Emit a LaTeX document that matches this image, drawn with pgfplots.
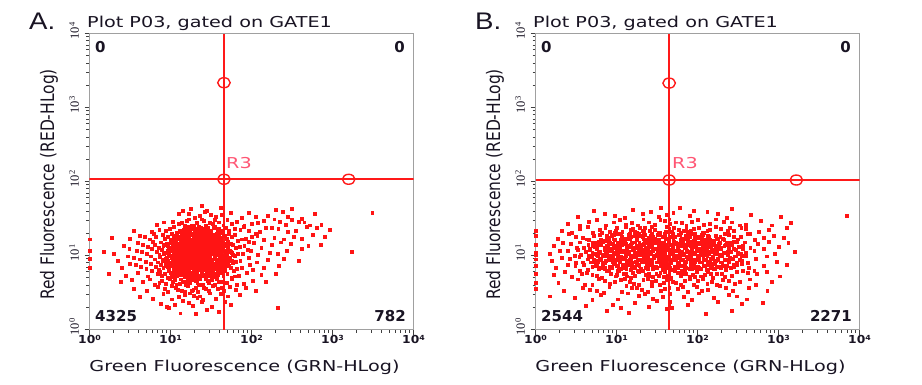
\documentclass[border=0pt]{standalone}
\usepackage{fontspec}
\setmainfont{DejaVu Sans}
\newfontfamily\tickserif{Liberation Serif}
\newfontfamily\panelfont{Liberation Sans}
\usepackage{graphicx}
\usepackage{pgfplots}
\pgfplotsset{compat=1.18}

\definecolor{gatered}{RGB}{255,25,25}
\definecolor{dotred}{RGB}{255,20,20}
\definecolor{framegray}{RGB}{160,160,160}
\definecolor{rthree}{RGB}{255,85,115}
\definecolor{txt}{RGB}{25,20,35}

\newcommand{\hs}[1]{\scalebox{1.28}[1]{#1}}
\newcommand{\xlab}[1]{\scalebox{1.12}[1]{\fontsize{11}{11}\selectfont\bfseries 10\raisebox{0.45ex}{\fontsize{7}{7}\selectfont #1}}}
\newcommand{\ylab}[1]{{\tickserif\fontsize{12.5}{12.5}\selectfont 10\raisebox{0.7ex}{\fontsize{8.5}{8.5}\selectfont #1}}}

\pgfplotsset{flowplot/.style={
  scale only axis, width=324pt, height=296pt,
  xmin=0, xmax=4, ymin=0, ymax=4,
  axis line style={framegray, line width=1.6pt},
  xtick={0,1,2,3,4}, ytick={0,1,2,3,4},
  xticklabels={\xlab{0},\xlab{1},\xlab{2},\xlab{3},\xlab{4}},
  yticklabels={\ylab{0},\ylab{1},\ylab{2},\ylab{3},\ylab{4}},
  minor xtick={0.301,0.477,0.602,0.699,0.778,0.845,0.903,0.954,1.301,1.477,1.602,1.699,1.778,1.845,1.903,1.954,2.301,2.477,2.602,2.699,2.778,2.845,2.903,2.954,3.301,3.477,3.602,3.699,3.778,3.845,3.903,3.954},
  minor ytick={0.301,0.477,0.602,0.699,0.778,0.845,0.903,0.954,1.301,1.477,1.602,1.699,1.778,1.845,1.903,1.954,2.301,2.477,2.602,2.699,2.778,2.845,2.903,2.954,3.301,3.477,3.602,3.699,3.778,3.845,3.903,3.954},
  tick align=outside, tick pos=left,
  major tick length=5pt, minor tick length=3pt,
  every tick/.style={black!75, line width=0.9pt},
  xticklabel style={txt, yshift=3pt},
  yticklabel style={txt, xshift=-2pt, yshift=2.5pt, rotate=90, anchor=south},
}}
\pgfplotsset{dots/.style={only marks, color=dotred, mark=square*, mark size=1.45pt, mark options={draw=none, fill=dotred}}}
\pgfplotsset{gate/.style={color=gatered, draw=gatered, line width=1.6pt, no marks}}
\pgfplotsset{handles/.style={only marks, color=gatered, mark=o, mark size=5pt, mark options={draw=gatered, line width=1.4pt, xscale=1.25}}}

\begin{document}
\begin{tikzpicture}[x=1pt,y=1pt]
\path[use as bounding box] (0,0) rectangle (922,384);

% ---------------- Panel A ----------------
\begin{axis}[flowplot, at={(89.5pt,54.5pt)}, anchor=south west]
\addplot[dots] coordinates {
(1.12,0.22) (1.45,0.27) (0.98,0.29) (1.60,0.24) (1.31,0.21) (2.32,0.30)
(1.05,0.33) (1.22,0.36) (1.51,0.31) (1.38,0.38) (0.88,0.35) (1.67,0.37) (1.27,0.32) (1.74,0.34) (1.15,0.39) (0.95,0.31)
(0.62,0.44) (1.02,0.41) (1.18,0.47) (1.33,0.43) (1.48,0.49) (1.56,0.42) (1.29,0.46) (0.91,0.48) (1.71,0.45) (1.40,0.40) (1.10,0.44) (1.85,0.47) (0.78,0.42) (1.24,0.49) (1.62,0.48) (1.36,0.45)
(0.55,0.55) (0.71,0.52) (0.84,0.58) (0.97,0.51) (1.06,0.56) (1.14,0.53) (1.21,0.59) (1.28,0.54) (1.34,0.51) (1.41,0.57) (1.47,0.53) (1.52,0.59) (1.58,0.55) (1.66,0.52) (1.73,0.58) (1.80,0.54) (1.93,0.57) (2.05,0.53) (1.02,0.59) (1.17,0.51) (1.31,0.57) (1.44,0.55) (1.26,0.52) (0.93,0.55) (1.63,0.57) (1.09,0.54)
(0.81,0.61) (1.22,0.66) (1.47,0.63) (0.99,0.69) (1.64,0.64) (1.11,0.62) (1.36,0.68) (0.66,0.65) (1.55,0.60) (1.29,0.67)
(1.90,0.62) (1.03,0.64) (1.43,0.69) (0.89,0.66) (1.19,0.61) (1.75,0.68) (1.33,0.63) (0.52,0.67) (1.59,0.65) (1.07,0.60)
(1.26,0.69) (2.01,0.66) (0.94,0.62) (1.51,0.67) (1.15,0.65) (1.40,0.61) (0.74,0.68) (1.69,0.63) (1.31,0.66) (2.18,0.64)
(1.05,0.67) (1.82,0.61) (1.24,0.63) (0.38,0.65) (1.46,0.66) (1.13,0.68) (0.86,0.63) (1.57,0.69) (1.35,0.60) (1.20,0.64)
(1.18,0.71) (0.93,0.76) (1.42,0.73) (1.61,0.78) (1.05,0.74) (1.29,0.79) (0.72,0.72) (1.50,0.75) (1.36,0.70) (1.12,0.77)
(1.84,0.73) (0.98,0.79) (1.24,0.74) (1.56,0.71) (1.33,0.76) (0.84,0.75) (1.47,0.78) (1.08,0.72) (1.70,0.76) (1.21,0.70)
(0.59,0.77) (1.39,0.74) (1.02,0.71) (1.65,0.73) (1.15,0.79) (1.27,0.72) (1.94,0.77) (0.89,0.73) (1.53,0.76) (1.31,0.78)
(2.12,0.74) (1.10,0.75) (1.44,0.71) (0.77,0.79) (1.58,0.74) (1.19,0.76) (1.35,0.73) (1.00,0.77) (1.75,0.70) (1.26,0.75)
(0.45,0.73) (1.48,0.72) (1.14,0.74) (1.67,0.79) (0.96,0.70) (1.38,0.77) (2.30,0.76) (1.23,0.78) (1.06,0.76) (1.52,0.79)
(0.24,0.75) (1.32,0.71) (1.79,0.72) (1.17,0.73) (0.87,0.78) (1.45,0.75) (1.62,0.77) (1.28,0.77)
(1.20,0.81) (0.95,0.86) (1.46,0.83) (1.63,0.88) (1.07,0.84) (1.31,0.89) (0.70,0.82) (1.54,0.85) (1.38,0.80) (1.13,0.87)
(1.88,0.83) (1.00,0.89) (1.26,0.84) (1.58,0.81) (1.35,0.86) (0.82,0.85) (1.49,0.88) (1.09,0.82) (1.72,0.86) (1.23,0.80)
(0.57,0.87) (1.41,0.84) (1.04,0.81) (1.67,0.83) (1.17,0.89) (1.29,0.82) (1.98,0.87) (0.91,0.83) (1.56,0.86) (1.33,0.88)
(2.15,0.84) (1.12,0.85) (1.44,0.81) (0.76,0.89) (1.60,0.84) (1.21,0.86) (1.37,0.83) (1.02,0.87) (1.78,0.80) (1.28,0.85)
(0.40,0.83) (1.51,0.82) (1.16,0.84) (1.69,0.89) (0.98,0.80) (1.40,0.87) (2.34,0.86) (1.25,0.88) (1.08,0.86) (1.55,0.89)
(0.63,0.85) (1.34,0.81) (1.82,0.82) (1.19,0.83) (0.88,0.88) (1.47,0.85) (1.65,0.87) (1.30,0.87) (1.43,0.86) (1.14,0.80)
(0.85,0.81) (1.61,0.85) (1.24,0.89) (1.52,0.84) (1.05,0.88) (1.36,0.82) (0.50,0.89) (2.02,0.81) (1.27,0.83) (1.74,0.84)
(0.00,0.84) (1.11,0.83)
(1.19,0.91) (0.94,0.96) (1.45,0.93) (1.62,0.98) (1.06,0.94) (1.30,0.99) (0.69,0.92) (1.53,0.95) (1.37,0.90) (1.12,0.97)
(1.86,0.93) (0.99,0.99) (1.25,0.94) (1.57,0.91) (1.34,0.96) (0.81,0.95) (1.48,0.98) (1.08,0.92) (1.71,0.96) (1.22,0.90)
(0.55,0.97) (1.40,0.94) (1.03,0.91) (1.66,0.93) (1.16,0.99) (1.28,0.92) (1.97,0.97) (0.90,0.93) (1.55,0.96) (1.32,0.98)
(2.20,0.94) (1.11,0.95) (1.43,0.91) (0.75,0.99) (1.59,0.94) (1.20,0.96) (1.36,0.93) (1.01,0.97) (1.77,0.90) (1.27,0.95)
(0.35,0.93) (1.50,0.92) (1.15,0.94) (1.68,0.99) (0.97,0.90) (1.39,0.97) (2.40,0.96) (1.24,0.98) (1.07,0.96) (1.54,0.99)
(0.62,0.95) (1.33,0.91) (1.81,0.92) (1.18,0.93) (0.87,0.98) (1.46,0.95) (1.64,0.97) (1.29,0.97) (1.42,0.96) (1.13,0.90)
(0.84,0.91) (1.60,0.95) (1.23,0.99) (1.51,0.94) (1.04,0.98) (1.35,0.92) (0.47,0.99) (2.06,0.91) (1.26,0.93) (1.73,0.94)
(0.00,0.96) (1.10,0.93) (1.21,0.95) (1.31,0.94) (1.41,0.99) (1.17,0.97) (0.92,0.94) (1.58,0.92) (1.38,0.95) (1.09,0.99)
(2.58,0.93) (1.47,0.90)
(1.21,1.01) (0.96,1.06) (1.47,1.03) (1.64,1.08) (1.08,1.04) (1.32,1.09) (0.71,1.02) (1.55,1.05) (1.39,1.00) (1.14,1.07)
(1.89,1.03) (1.01,1.09) (1.27,1.04) (1.59,1.01) (1.36,1.06) (0.83,1.05) (1.50,1.08) (1.10,1.02) (1.73,1.06) (1.24,1.00)
(0.58,1.07) (1.42,1.04) (1.05,1.01) (1.68,1.03) (1.18,1.09) (1.30,1.02) (1.99,1.07) (0.92,1.03) (1.57,1.06) (1.34,1.08)
(2.22,1.04) (1.13,1.05) (1.45,1.01) (0.77,1.09) (1.61,1.04) (1.22,1.06) (1.38,1.03) (1.03,1.07) (1.79,1.00) (1.29,1.05)
(0.30,1.03) (1.52,1.02) (1.17,1.04) (1.70,1.09) (0.99,1.00) (1.41,1.07) (2.44,1.06) (1.26,1.08) (1.09,1.06) (1.56,1.09)
(0.64,1.05) (1.35,1.01) (1.83,1.02) (1.20,1.03) (0.89,1.08) (1.48,1.05) (1.66,1.07) (1.31,1.07) (1.44,1.06) (1.15,1.00)
(0.86,1.01) (1.62,1.05) (1.25,1.09) (1.53,1.04) (1.06,1.08) (1.37,1.02) (0.49,1.09) (2.08,1.01) (1.28,1.03) (1.75,1.04)
(0.00,1.07) (1.12,1.03) (1.23,1.05) (1.33,1.04) (1.43,1.09) (1.19,1.07) (0.94,1.04) (1.60,1.02) (1.40,1.05) (1.11,1.09)
(2.32,1.02) (1.49,1.00) (0.18,1.05) (1.95,1.08) (3.24,1.05) (2.62,1.09)
(1.20,1.11) (0.95,1.16) (1.46,1.13) (1.63,1.18) (1.07,1.14) (1.31,1.19) (0.72,1.12) (1.54,1.15) (1.38,1.10) (1.13,1.17)
(1.91,1.13) (1.00,1.19) (1.26,1.14) (1.58,1.11) (1.35,1.16) (0.80,1.15) (1.49,1.18) (1.09,1.12) (1.74,1.16) (1.23,1.10)
(0.60,1.17) (1.41,1.14) (1.04,1.11) (1.67,1.13) (1.17,1.19) (1.29,1.12) (2.03,1.17) (0.91,1.13) (1.56,1.16) (1.33,1.18)
(2.25,1.14) (1.12,1.15) (1.44,1.11) (0.78,1.19) (1.60,1.14) (1.21,1.16) (1.37,1.13) (1.02,1.17) (1.80,1.10) (1.28,1.15)
(0.42,1.13) (1.51,1.12) (1.16,1.14) (1.71,1.19) (0.98,1.10) (1.40,1.17) (2.48,1.16) (1.25,1.18) (1.08,1.16) (1.55,1.19)
(0.66,1.15) (1.34,1.11) (1.85,1.12) (1.19,1.13) (0.88,1.18) (1.47,1.15) (1.65,1.17) (1.30,1.17) (1.43,1.16) (1.14,1.10)
(0.85,1.11) (1.61,1.15) (1.24,1.19) (1.52,1.14) (1.05,1.18) (1.36,1.12) (2.12,1.11) (1.27,1.13) (1.77,1.14) (2.70,1.13)
(1.22,1.15) (1.32,1.14) (1.42,1.19) (1.18,1.17) (0.93,1.14) (1.59,1.12) (1.39,1.15) (2.36,1.18) (2.85,1.15) (1.96,1.19)
(1.22,1.21) (0.97,1.26) (1.48,1.23) (1.65,1.28) (1.09,1.24) (1.33,1.29) (0.74,1.22) (1.56,1.25) (1.40,1.20) (1.15,1.27)
(1.93,1.23) (1.02,1.29) (1.28,1.24) (1.60,1.21) (1.37,1.26) (0.82,1.25) (1.51,1.28) (1.11,1.22) (1.76,1.26) (1.25,1.20)
(0.62,1.27) (1.43,1.24) (1.06,1.21) (1.69,1.23) (1.19,1.29) (1.31,1.22) (2.07,1.27) (0.93,1.23) (1.58,1.26) (1.35,1.28)
(2.28,1.24) (1.14,1.25) (1.46,1.21) (0.79,1.29) (1.62,1.24) (1.23,1.26) (1.39,1.23) (1.04,1.27) (1.83,1.20) (1.30,1.25)
(0.50,1.23) (1.53,1.22) (1.18,1.24) (1.72,1.29) (1.00,1.20) (1.42,1.27) (2.52,1.26) (1.27,1.28) (1.10,1.26) (1.57,1.29)
(0.68,1.25) (1.36,1.21) (1.88,1.22) (1.21,1.23) (0.90,1.28) (1.49,1.25) (1.67,1.27) (1.32,1.27) (2.15,1.21) (2.75,1.28)
(2.40,1.22) (1.45,1.26) (1.26,1.22) (1.54,1.24) (0.27,1.24) (2.62,1.23) (2.00,1.25) (1.79,1.28) (0.00,1.22) (2.90,1.25)
(1.24,1.31) (0.99,1.36) (1.50,1.33) (1.68,1.38) (1.11,1.34) (1.35,1.39) (0.77,1.32) (1.58,1.35) (1.42,1.30) (1.17,1.37)
(1.97,1.33) (1.04,1.39) (1.30,1.34) (1.62,1.31) (1.39,1.36) (0.86,1.35) (1.53,1.38) (1.13,1.32) (1.79,1.36) (1.27,1.30)
(2.18,1.37) (1.45,1.34) (1.08,1.31) (1.72,1.33) (1.21,1.39) (1.33,1.32) (2.33,1.36) (0.94,1.33) (1.60,1.36) (1.37,1.38)
(2.55,1.34) (1.16,1.35) (1.48,1.31) (2.68,1.39) (1.64,1.34) (1.25,1.36) (1.41,1.33) (2.05,1.30) (1.86,1.35) (1.32,1.35)
(0.55,1.33) (2.45,1.32) (1.19,1.34) (2.80,1.38) (1.02,1.30) (2.25,1.37) (2.96,1.35) (1.28,1.38) (1.55,1.39) (2.10,1.32)
(1.90,1.39) (1.46,1.37)
(1.26,1.41) (1.03,1.46) (1.52,1.43) (1.70,1.48) (1.14,1.44) (1.38,1.49) (0.83,1.42) (1.60,1.45) (1.44,1.40) (1.20,1.47)
(2.00,1.43) (2.28,1.49) (1.32,1.44) (1.65,1.41) (2.58,1.46) (0.92,1.45) (1.55,1.48) (2.42,1.42) (1.82,1.46) (1.29,1.40)
(2.15,1.47) (1.48,1.44) (2.72,1.41) (1.75,1.43) (1.23,1.49) (2.86,1.42) (2.35,1.46) (1.10,1.43) (1.91,1.41) (2.50,1.48)
(1.41,1.47) (2.65,1.45) (1.17,1.41) (2.08,1.44)
(1.30,1.51) (1.10,1.56) (1.56,1.53) (1.74,1.58) (2.20,1.54) (1.42,1.59) (2.45,1.52) (1.63,1.55) (2.62,1.50) (1.22,1.57)
(2.05,1.53) (2.38,1.59) (1.36,1.54) (1.88,1.51) (2.78,1.56) (1.50,1.55) (1.97,1.58) (3.49,1.58)
(1.25,1.63) (1.45,1.61) (1.62,1.65) (2.30,1.62) (1.38,1.67) (2.50,1.63) (1.15,1.61)
(1.06,0.73) (1.13,0.74) (1.19,0.72) (1.25,0.74) (1.32,0.73) (1.38,0.72) (1.44,0.74) (1.51,0.73)
(1.01,0.77) (1.08,0.78) (1.14,0.76) (1.20,0.78) (1.27,0.77) (1.33,0.76) (1.39,0.78) (1.46,0.77) (1.52,0.76) (1.58,0.78)
(0.98,0.81) (1.04,0.82) (1.10,0.80) (1.16,0.82) (1.22,0.81) (1.28,0.80) (1.34,0.82) (1.40,0.81) (1.47,0.80) (1.53,0.82) (1.60,0.81) (1.66,0.80)
(0.96,0.85) (1.02,0.86) (1.08,0.84) (1.14,0.86) (1.19,0.85) (1.25,0.84) (1.31,0.86) (1.37,0.85) (1.43,0.84) (1.49,0.86) (1.55,0.85) (1.62,0.84) (1.69,0.86)
(0.94,0.89) (1.00,0.90) (1.06,0.88) (1.12,0.90) (1.17,0.89) (1.23,0.88) (1.29,0.90) (1.35,0.89) (1.41,0.88) (1.47,0.90) (1.53,0.89) (1.59,0.88) (1.65,0.90) (1.71,0.89)
(0.97,0.93) (1.03,0.94) (1.09,0.92) (1.15,0.94) (1.21,0.93) (1.27,0.92) (1.33,0.94) (1.39,0.93) (1.45,0.92) (1.51,0.94) (1.57,0.93) (1.63,0.92) (1.70,0.94) (1.76,0.93)
(0.95,0.97) (1.01,0.98) (1.07,0.96) (1.13,0.98) (1.19,0.97) (1.25,0.96) (1.31,0.98) (1.37,0.97) (1.43,0.96) (1.49,0.98) (1.55,0.97) (1.61,0.96) (1.67,0.98) (1.73,0.97)
(0.98,1.01) (1.04,1.02) (1.10,1.00) (1.16,1.02) (1.22,1.01) (1.28,1.00) (1.34,1.02) (1.40,1.01) (1.46,1.00) (1.52,1.02) (1.58,1.01) (1.64,1.00) (1.70,1.02) (1.77,1.01)
(0.96,1.05) (1.02,1.06) (1.08,1.04) (1.14,1.06) (1.20,1.05) (1.26,1.04) (1.32,1.06) (1.38,1.05) (1.44,1.04) (1.50,1.06) (1.56,1.05) (1.62,1.04) (1.68,1.06) (1.74,1.05)
(0.99,1.09) (1.05,1.10) (1.11,1.08) (1.17,1.10) (1.23,1.09) (1.29,1.08) (1.35,1.10) (1.41,1.09) (1.47,1.08) (1.53,1.10) (1.59,1.09) (1.65,1.08) (1.71,1.10)
(0.97,1.13) (1.03,1.14) (1.09,1.12) (1.15,1.14) (1.21,1.13) (1.27,1.12) (1.33,1.14) (1.39,1.13) (1.45,1.12) (1.51,1.14) (1.57,1.13) (1.63,1.12) (1.69,1.14)
(1.00,1.17) (1.06,1.18) (1.12,1.16) (1.18,1.18) (1.24,1.17) (1.30,1.16) (1.36,1.18) (1.42,1.17) (1.48,1.16) (1.54,1.18) (1.60,1.17) (1.66,1.16)
(1.02,1.21) (1.08,1.22) (1.14,1.20) (1.20,1.22) (1.26,1.21) (1.32,1.20) (1.38,1.22) (1.44,1.21) (1.50,1.20) (1.56,1.22) (1.62,1.21)
(1.05,1.25) (1.11,1.26) (1.17,1.24) (1.23,1.26) (1.29,1.25) (1.35,1.24) (1.41,1.26) (1.47,1.25) (1.53,1.24) (1.59,1.26)
(1.08,1.29) (1.14,1.30) (1.20,1.28) (1.26,1.30) (1.32,1.29) (1.38,1.28) (1.44,1.30) (1.50,1.29) (1.56,1.28)
(1.12,1.33) (1.18,1.34) (1.24,1.32) (1.30,1.34) (1.36,1.33) (1.42,1.32) (1.48,1.34)
(1.17,1.37) (1.23,1.38) (1.30,1.36) (1.37,1.38) (1.43,1.37)
};
\addplot[gate] coordinates {(0,2.03) (4,2.03)};
\addplot[gate] coordinates {(1.66,0) (1.66,4)};
\addplot[handles] coordinates {(1.66,3.335) (1.66,2.03) (3.20,2.03)};
\end{axis}

% ---------------- Panel B ----------------
\begin{axis}[flowplot, at={(535.5pt,54.5pt)}, anchor=south west]
\addplot[dots] coordinates {
(1.15,0.23) (1.62,0.28) (0.88,0.26) (2.10,0.21) (1.68,0.29) (2.42,0.25)
(0.95,0.34) (1.40,0.31) (1.66,0.37) (1.88,0.33) (2.25,0.38) (1.22,0.36) (0.62,0.32) (2.55,0.35) (1.50,0.39) (1.05,0.30) (2.80,0.36) (1.65,0.33)
(0.48,0.43) (0.80,0.47) (1.02,0.41) (1.27,0.46) (1.45,0.42) (1.66,0.48) (1.83,0.44) (2.02,0.49) (2.20,0.43) (2.38,0.47) (2.61,0.41) (0.18,0.45) (1.14,0.49) (1.57,0.44) (1.93,0.40) (2.48,0.45) (0.70,0.40) (1.35,0.48)
(0.35,0.52) (0.58,0.57) (0.76,0.53) (0.91,0.58) (1.06,0.51) (1.19,0.56) (1.31,0.54) (1.44,0.59) (1.55,0.52) (1.65,0.57)
(1.76,0.55) (1.88,0.51) (1.99,0.58) (2.13,0.54) (2.27,0.59) (2.44,0.53) (2.63,0.56) (2.86,0.52) (0.00,0.55) (0.84,0.50)
(1.12,0.59) (1.38,0.51) (1.60,0.55) (1.82,0.58) (2.05,0.52) (2.35,0.56) (0.67,0.54) (1.25,0.57)
(0.28,0.63) (0.52,0.68) (0.70,0.61) (0.85,0.66) (0.98,0.64) (1.10,0.69) (1.21,0.62) (1.33,0.67) (1.43,0.65) (1.53,0.60)
(1.64,0.68) (1.73,0.63) (1.84,0.66) (1.95,0.61) (2.06,0.69) (2.18,0.64) (2.31,0.67) (2.46,0.62) (2.64,0.68) (2.92,0.65)
(0.61,0.60) (0.92,0.62) (1.16,0.65) (1.38,0.69) (1.58,0.63) (1.79,0.61) (2.00,0.66) (2.24,0.60) (2.52,0.64) (1.05,0.67)
(1.27,0.61) (1.48,0.66) (1.69,0.64) (1.90,0.68) (2.12,0.62) (0.78,0.69) (2.39,0.66) (0.00,0.63) (1.62,0.67) (2.72,0.61)
(0.22,0.74) (0.45,0.71) (0.63,0.77) (0.76,0.73) (0.88,0.79) (0.99,0.72) (1.09,0.76) (1.18,0.70) (1.27,0.78) (1.36,0.74)
(1.45,0.71) (1.54,0.77) (1.63,0.73) (1.72,0.79) (1.81,0.75) (1.90,0.72) (1.99,0.78) (2.09,0.74) (2.19,0.70) (2.30,0.76)
(2.42,0.73) (2.56,0.79) (2.73,0.75) (3.02,0.72) (0.57,0.75) (0.82,0.70) (1.03,0.79) (1.22,0.73) (1.40,0.76) (1.58,0.71)
(1.76,0.77) (1.94,0.74) (2.13,0.78) (2.34,0.71) (2.62,0.77) (0.70,0.74) (0.93,0.76) (1.13,0.72) (1.31,0.79) (1.49,0.75)
(1.67,0.70) (1.85,0.76) (2.04,0.72) (2.24,0.75) (2.48,0.78) (0.36,0.78) (1.00,0.74) (1.20,0.77) (1.41,0.72) (1.60,0.78)
(1.79,0.73) (1.97,0.71) (2.16,0.76) (1.65,0.75) (0.00,0.76) (2.85,0.78) (1.11,0.75) (1.52,0.73)
(0.25,0.83) (0.49,0.86) (0.64,0.81) (0.75,0.88) (0.86,0.84) (0.96,0.89) (1.05,0.82) (1.14,0.87) (1.23,0.85) (1.32,0.80)
(1.41,0.88) (1.50,0.83) (1.59,0.86) (1.68,0.81) (1.77,0.89) (1.86,0.84) (1.95,0.87) (2.04,0.82) (2.14,0.88) (2.24,0.85)
(2.35,0.81) (2.48,0.87) (2.63,0.83) (2.82,0.86) (0.55,0.80) (0.80,0.83) (1.00,0.86) (1.18,0.81) (1.36,0.84) (1.54,0.89)
(1.72,0.85) (1.90,0.82) (2.08,0.86) (2.28,0.83) (2.55,0.89) (0.70,0.85) (0.91,0.81) (1.09,0.84) (1.27,0.88) (1.45,0.82)
(1.63,0.87) (1.81,0.80) (1.99,0.85) (2.19,0.89) (2.41,0.84) (0.40,0.87) (0.83,0.89) (1.02,0.80) (1.20,0.83) (1.39,0.86)
(1.57,0.81) (1.75,0.84) (1.93,0.88) (2.11,0.81) (2.31,0.86) (2.70,0.80) (0.60,0.88) (0.93,0.83) (1.12,0.89) (1.30,0.82)
(1.48,0.85) (1.66,0.83) (1.84,0.87) (2.02,0.84) (2.21,0.82) (2.45,0.85) (0.00,0.86) (1.07,0.87) (1.26,0.80) (1.44,0.87)
(1.61,0.84) (1.79,0.86) (1.97,0.83) (2.16,0.84) (0.78,0.82) (3.10,0.88)
(0.20,0.93) (0.42,0.96) (0.58,0.91) (0.69,0.98) (0.79,0.94) (0.89,0.99) (0.98,0.92) (1.07,0.97) (1.16,0.95) (1.25,0.90)
(1.34,0.98) (1.43,0.93) (1.52,0.96) (1.61,0.91) (1.70,0.99) (1.79,0.94) (1.88,0.97) (1.97,0.92) (2.07,0.98) (2.17,0.95)
(2.28,0.91) (2.40,0.97) (2.55,0.93) (2.72,0.96) (2.98,0.92) (0.50,0.90) (0.74,0.93) (0.94,0.96) (1.12,0.91) (1.30,0.94)
(1.48,0.99) (1.66,0.95) (1.84,0.92) (2.02,0.96) (2.22,0.93) (2.47,0.99) (0.64,0.95) (0.84,0.91) (1.03,0.94) (1.21,0.98)
(1.39,0.92) (1.57,0.97) (1.75,0.90) (1.93,0.95) (2.12,0.99) (2.34,0.94) (0.32,0.97) (0.77,0.99) (0.96,0.90) (1.14,0.93)
(1.33,0.96) (1.51,0.91) (1.69,0.94) (1.87,0.98) (2.05,0.91) (2.25,0.96) (2.62,0.90) (0.54,0.98) (0.87,0.93) (1.05,0.99)
(1.24,0.92) (1.42,0.95) (1.60,0.93) (1.78,0.97) (1.96,0.94) (2.15,0.92) (2.38,0.95) (0.00,0.95) (1.01,0.97) (1.19,0.90)
(1.37,0.97) (1.55,0.94) (1.73,0.96) (1.91,0.93) (2.10,0.94) (0.72,0.92) (2.85,0.99) (1.10,0.96) (1.28,0.95) (1.46,0.97)
(1.64,0.98) (1.82,0.95) (2.00,0.97) (2.19,0.98) (0.91,0.96) (1.35,0.91) (1.53,0.99) (2.30,0.99)
(0.17,1.03) (0.40,1.06) (0.56,1.01) (0.67,1.08) (0.78,1.04) (0.88,1.09) (0.97,1.02) (1.06,1.07) (1.15,1.05) (1.24,1.00)
(1.33,1.08) (1.42,1.03) (1.51,1.06) (1.60,1.01) (1.69,1.09) (1.78,1.04) (1.87,1.07) (1.96,1.02) (2.06,1.08) (2.16,1.05)
(2.27,1.01) (2.39,1.07) (2.53,1.03) (2.70,1.06) (2.95,1.02) (0.48,1.00) (0.73,1.03) (0.93,1.06) (1.11,1.01) (1.29,1.04)
(1.47,1.09) (1.65,1.05) (1.83,1.02) (2.01,1.06) (2.21,1.03) (2.45,1.09) (0.62,1.05) (0.83,1.01) (1.02,1.04) (1.20,1.08)
(1.38,1.02) (1.56,1.07) (1.74,1.00) (1.92,1.05) (2.11,1.09) (2.33,1.04) (0.30,1.07) (0.76,1.09) (0.95,1.00) (1.13,1.03)
(1.32,1.06) (1.50,1.01) (1.68,1.04) (1.86,1.08) (2.04,1.01) (2.24,1.06) (2.60,1.00) (0.52,1.08) (0.86,1.03) (1.04,1.09)
(1.23,1.02) (1.41,1.05) (1.59,1.03) (1.77,1.07) (1.95,1.04) (2.14,1.02) (2.37,1.05) (0.00,1.04) (1.00,1.07) (1.18,1.00)
(1.36,1.07) (1.54,1.04) (1.72,1.06) (1.90,1.03) (2.09,1.04) (0.71,1.02) (2.82,1.09) (1.09,1.06) (1.27,1.05) (1.45,1.07)
(1.63,1.08) (1.81,1.05) (1.99,1.07) (2.18,1.08) (0.90,1.06) (1.34,1.01) (1.52,1.09) (2.29,1.09) (3.20,1.05) (0.00,1.01)
(2.50,1.04) (1.79,1.01)
(0.23,1.13) (0.44,1.16) (0.59,1.11) (0.70,1.18) (0.80,1.14) (0.90,1.19) (0.99,1.12) (1.08,1.17) (1.17,1.15) (1.26,1.10)
(1.35,1.18) (1.44,1.13) (1.53,1.16) (1.62,1.11) (1.71,1.19) (1.80,1.14) (1.89,1.17) (1.98,1.12) (2.08,1.18) (2.18,1.15)
(2.29,1.11) (2.41,1.17) (2.56,1.13) (2.74,1.16) (3.00,1.12) (0.51,1.10) (0.75,1.13) (0.95,1.16) (1.13,1.11) (1.31,1.14)
(1.49,1.19) (1.67,1.15) (1.85,1.12) (2.03,1.16) (2.23,1.13) (2.48,1.19) (0.65,1.15) (0.85,1.11) (1.04,1.14) (1.22,1.18)
(1.40,1.12) (1.58,1.17) (1.76,1.10) (1.94,1.15) (2.13,1.19) (2.35,1.14) (0.34,1.17) (0.78,1.19) (0.97,1.10) (1.15,1.13)
(1.34,1.16) (1.52,1.11) (1.70,1.14) (1.88,1.18) (2.06,1.11) (2.26,1.16) (2.65,1.10) (0.55,1.18) (0.88,1.13) (1.06,1.19)
(1.25,1.12) (1.43,1.15) (1.61,1.13) (1.79,1.17) (1.97,1.14) (2.16,1.12) (2.39,1.15) (0.00,1.15) (1.02,1.17) (1.20,1.10)
(1.38,1.17) (1.56,1.14) (1.74,1.16) (1.92,1.13) (2.11,1.14) (0.73,1.12) (2.88,1.19) (1.11,1.16) (1.29,1.15) (1.47,1.17)
(1.65,1.18) (1.83,1.15) (2.01,1.17) (2.20,1.18) (0.92,1.16) (1.36,1.11) (2.58,1.18) (3.12,1.17)
(0.27,1.23) (0.50,1.26) (0.66,1.21) (0.79,1.28) (0.91,1.24) (1.02,1.29) (1.12,1.22) (1.22,1.27) (1.32,1.25) (1.42,1.20)
(1.52,1.28) (1.62,1.23) (1.72,1.26) (1.82,1.21) (1.92,1.29) (2.02,1.24) (2.13,1.27) (2.25,1.22) (2.38,1.28) (2.53,1.25)
(2.71,1.21) (2.94,1.27) (0.58,1.24) (0.85,1.20) (1.07,1.25) (1.27,1.29) (1.47,1.23) (1.67,1.26) (1.87,1.22) (2.07,1.28)
(2.31,1.23) (2.62,1.29) (0.72,1.27) (0.97,1.22) (1.17,1.26) (1.37,1.21) (1.57,1.25) (1.77,1.28) (1.97,1.24) (2.19,1.20)
(2.45,1.26) (0.41,1.29) (0.88,1.26) (1.10,1.23) (1.30,1.27) (1.50,1.22) (1.70,1.29) (1.90,1.25) (2.10,1.21) (2.34,1.29)
(2.82,1.24) (0.00,1.27) (1.05,1.21) (1.25,1.24) (1.45,1.26) (1.65,1.21) (1.85,1.27) (2.05,1.23) (2.28,1.26) (0.63,1.22)
(1.15,1.28) (1.40,1.24) (1.60,1.27) (1.80,1.23) (2.00,1.26) (0.94,1.27) (2.50,1.22) (3.06,1.24) (1.35,1.28) (1.95,1.20)
(0.32,1.33) (0.55,1.36) (0.71,1.31) (0.86,1.38) (0.99,1.34) (1.11,1.39) (1.23,1.32) (1.35,1.37) (1.47,1.35) (1.59,1.30)
(1.71,1.38) (1.83,1.33) (1.95,1.36) (2.08,1.31) (2.22,1.39) (2.37,1.34) (2.54,1.37) (2.76,1.32) (3.10,1.38) (0.64,1.39)
(0.92,1.32) (1.17,1.35) (1.41,1.33) (1.65,1.36) (1.89,1.30) (2.15,1.35) (2.45,1.33) (0.79,1.35) (1.05,1.30) (1.29,1.38)
(1.53,1.31) (1.77,1.35) (2.01,1.38) (2.29,1.36) (2.65,1.30) (0.00,1.34) (1.00,1.37) (1.62,1.39) (1.86,1.37) (2.12,1.33)
(0.45,1.31) (1.20,1.36) (1.44,1.39) (1.68,1.32) (1.92,1.34) (2.40,1.38) (2.88,1.35) (1.32,1.33) (0.82,1.31) (2.60,1.36)
(0.40,1.43) (0.66,1.46) (0.87,1.41) (1.04,1.48) (1.19,1.44) (1.33,1.49) (1.47,1.42) (1.60,1.47) (1.73,1.45) (1.86,1.40)
(2.00,1.48) (2.15,1.43) (2.32,1.46) (2.52,1.41) (2.78,1.47) (3.15,1.44) (0.76,1.48) (1.11,1.42) (1.40,1.45) (1.66,1.43)
(1.93,1.46) (2.22,1.49) (2.60,1.42) (0.96,1.45) (1.26,1.41) (1.54,1.48) (1.80,1.44) (2.08,1.42) (2.42,1.45) (0.55,1.40)
(1.65,1.49) (2.92,1.41)
(0.52,1.53) (0.85,1.57) (1.10,1.51) (1.32,1.56) (1.52,1.52) (1.70,1.58) (1.90,1.54) (2.12,1.59) (2.36,1.51) (2.66,1.55)
(3.03,1.53) (0.98,1.54) (1.62,1.55) (2.25,1.57) (1.42,1.59) (3.84,1.54)
(1.20,1.62) (1.55,1.64) (1.95,1.61) (2.42,1.63) (0.72,1.61) (1.78,1.65)
(0.85,0.82) (0.94,0.83) (1.03,0.81) (1.12,0.82) (1.21,0.83) (1.30,0.81) (1.39,0.82) (1.48,0.83) (1.57,0.81) (1.66,0.82) (1.75,0.83) (1.84,0.81) (1.93,0.82) (2.02,0.83) (2.11,0.81) (2.20,0.82) (2.29,0.83)
(0.74,0.86) (0.83,0.87) (0.92,0.85) (1.01,0.86) (1.10,0.87) (1.19,0.85) (1.28,0.86) (1.37,0.87) (1.46,0.85) (1.55,0.86) (1.64,0.87) (1.73,0.85) (1.82,0.86) (1.91,0.87) (2.00,0.85) (2.09,0.86) (2.18,0.87) (2.27,0.85) (2.36,0.86) (2.45,0.87)
(0.68,0.91) (0.77,0.92) (0.86,0.90) (0.95,0.91) (1.04,0.92) (1.13,0.90) (1.22,0.91) (1.31,0.92) (1.40,0.90) (1.49,0.91) (1.58,0.92) (1.67,0.90) (1.76,0.91) (1.85,0.92) (1.94,0.90) (2.03,0.91) (2.12,0.92) (2.21,0.90) (2.30,0.91) (2.39,0.92) (2.48,0.90)
(0.72,0.95) (0.81,0.96) (0.90,0.94) (0.99,0.95) (1.08,0.96) (1.17,0.94) (1.26,0.95) (1.35,0.96) (1.44,0.94) (1.53,0.95) (1.62,0.96) (1.71,0.94) (1.80,0.95) (1.89,0.96) (1.98,0.94) (2.07,0.95) (2.16,0.96) (2.25,0.94) (2.34,0.95) (2.43,0.96) (2.52,0.94)
(0.66,1.00) (0.75,1.01) (0.84,0.99) (0.93,1.00) (1.02,1.01) (1.11,0.99) (1.20,1.00) (1.29,1.01) (1.38,0.99) (1.47,1.00) (1.56,1.01) (1.65,0.99) (1.74,1.00) (1.83,1.01) (1.92,0.99) (2.01,1.00) (2.10,1.01) (2.19,0.99) (2.28,1.00) (2.37,1.01) (2.46,0.99) (2.55,1.00)
(0.70,1.04) (0.79,1.05) (0.88,1.03) (0.97,1.04) (1.06,1.05) (1.15,1.03) (1.24,1.04) (1.33,1.05) (1.42,1.03) (1.51,1.04) (1.60,1.05) (1.69,1.03) (1.78,1.04) (1.87,1.05) (1.96,1.03) (2.05,1.04) (2.14,1.05) (2.23,1.03) (2.32,1.04) (2.41,1.05) (2.50,1.03) (2.59,1.04)
(0.67,1.09) (0.76,1.10) (0.85,1.08) (0.94,1.09) (1.03,1.10) (1.12,1.08) (1.21,1.09) (1.30,1.10) (1.39,1.08) (1.48,1.09) (1.57,1.10) (1.66,1.08) (1.75,1.09) (1.84,1.10) (1.93,1.08) (2.02,1.09) (2.11,1.10) (2.20,1.08) (2.29,1.09) (2.38,1.10) (2.47,1.08) (2.56,1.09)
(0.71,1.13) (0.80,1.14) (0.89,1.12) (0.98,1.13) (1.07,1.14) (1.16,1.12) (1.25,1.13) (1.34,1.14) (1.43,1.12) (1.52,1.13) (1.61,1.14) (1.70,1.12) (1.79,1.13) (1.88,1.14) (1.97,1.12) (2.06,1.13) (2.15,1.14) (2.24,1.12) (2.33,1.13) (2.42,1.14) (2.51,1.12)
(0.74,1.18) (0.83,1.19) (0.92,1.17) (1.01,1.18) (1.10,1.19) (1.19,1.17) (1.28,1.18) (1.37,1.19) (1.46,1.17) (1.55,1.18) (1.64,1.19) (1.73,1.17) (1.82,1.18) (1.91,1.19) (2.00,1.17) (2.09,1.18) (2.18,1.19) (2.27,1.17) (2.36,1.18) (2.45,1.19)
(0.80,1.22) (0.89,1.23) (0.98,1.21) (1.07,1.22) (1.16,1.23) (1.25,1.21) (1.34,1.22) (1.43,1.23) (1.52,1.21) (1.61,1.22) (1.70,1.23) (1.79,1.21) (1.88,1.22) (1.97,1.23) (2.06,1.21) (2.15,1.22) (2.24,1.23) (2.33,1.21)
(0.88,1.27) (0.97,1.28) (1.06,1.26) (1.15,1.27) (1.24,1.28) (1.33,1.26) (1.42,1.27) (1.51,1.28) (1.60,1.26) (1.69,1.27) (1.78,1.28) (1.87,1.26) (1.96,1.27) (2.05,1.28) (2.14,1.26) (2.23,1.27)
(0.98,1.31) (1.07,1.32) (1.16,1.30) (1.25,1.31) (1.34,1.32) (1.43,1.30) (1.52,1.31) (1.61,1.32) (1.70,1.30) (1.79,1.31) (1.88,1.32) (1.97,1.30) (2.06,1.31)
};
\addplot[gate] coordinates {(0,2.02) (4,2.02)};
\addplot[gate] coordinates {(1.65,0) (1.65,4)};
\addplot[handles] coordinates {(1.65,3.33) (1.65,2.02) (3.22,2.02)};
\end{axis}

% ---------------- Text ----------------
\foreach \ox/\pl/\ul/\ur/\ll/\lr in {0/A/0/0/4325/782, 446/B/0/0/2544/2271}{
  \node[anchor=base west, inner sep=0pt, txt] at (29+\ox,354) {\scalebox{1.15}[1]{\panelfont\fontsize{24}{24}\selectfont \pl.}};
  \node[anchor=base west, inner sep=0pt, txt] at (87+\ox,356) {\hs{\fontsize{15}{15}\selectfont Plot P03, gated on GATE1}};
  \node[anchor=base, inner sep=0pt, txt] at (244.5+\ox,13) {\hs{\fontsize{15}{15}\selectfont Green Fluorescence (GRN-HLog)}};
  \node[rotate=90, anchor=center, inner sep=0pt, txt] at (49+\ox,199.5) {\scalebox{1}[1.2]{\fontsize{15.5}{15.5}\selectfont Red Fluorescence (RED-HLog)}};
  \node[anchor=base west, inner sep=0pt, txt] at (95+\ox,331) {\fontsize{15}{15}\selectfont\bfseries \ul};
  \node[anchor=base east, inner sep=0pt, txt] at (405+\ox,331) {\fontsize{15}{15}\selectfont\bfseries \ur};
  \node[anchor=base west, inner sep=0pt, txt] at (95+\ox,63) {\fontsize{15}{15}\selectfont\bfseries \ll};
  \node[anchor=base east, inner sep=0pt, txt] at (406+\ox,63) {\fontsize{15}{15}\selectfont\bfseries \lr};
  \node[anchor=base west, inner sep=0pt, rthree] at (226+\ox,216) {\hs{\fontsize{15}{15}\selectfont R3}};
}
\end{tikzpicture}
\end{document}
